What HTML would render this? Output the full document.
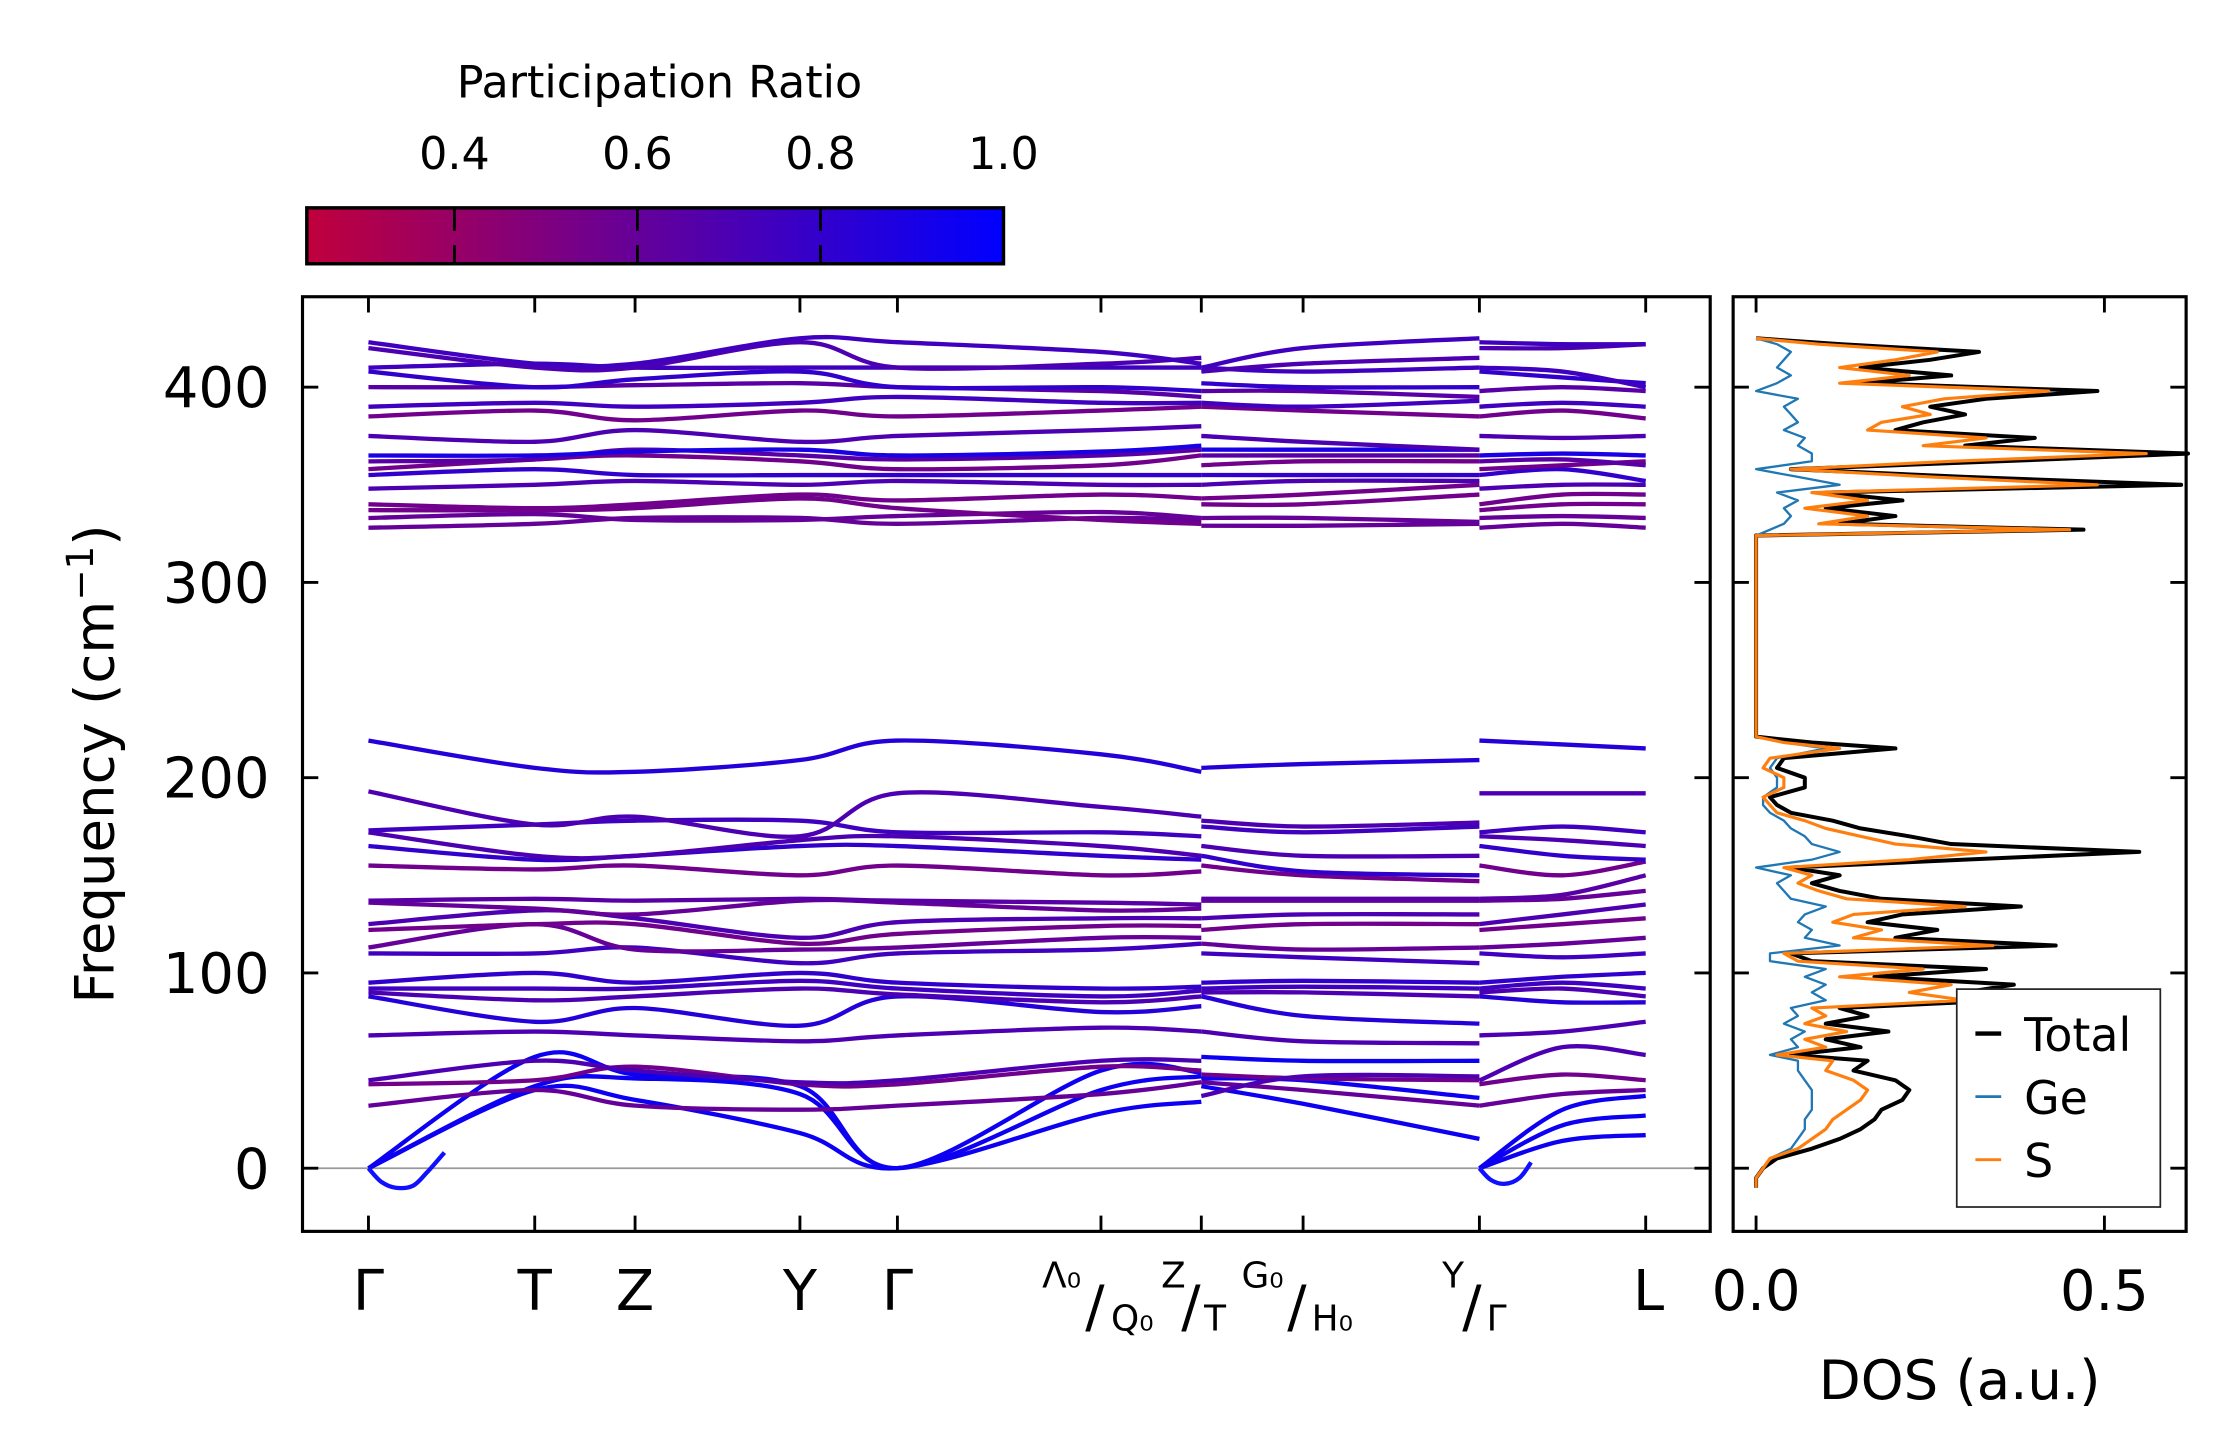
<!DOCTYPE html>
<html><head><meta charset="utf-8"><style>
html,body{margin:0;padding:0;background:#fff}
svg{display:block}
text{font-family:"DejaVu Sans","Liberation Sans",sans-serif;fill:#000}
</style></head><body>
<svg id="fig" width="2222" height="1455" viewBox="0 0 1550 1015" xmlns="http://www.w3.org/2000/svg"></svg>
<script>
// ---------- data ----------
const colorbarTicks = [0.4, 0.6, 0.8, 1.0];
const yTicks = [0, 100, 200, 300, 400];
const dosTicks = [0.0, 0.5];
const kLabels = ["Γ","T","Z","Y","Γ","","","","",""];
const kTickPos = [257,373,443,558,626,768,838,909,1032,1148];
const group1K = [257,373,443,558,626,768,838];
const group2K = [838,909,1032];
const group3K = [1032,1090,1148];
const bandFreqs = [
[0,40,35,18,0,28,34, 42,33,15, 0,14,17],
[0,42,46,38,0,40,47, 46,45,36, 0,22,27],
[0,57,48,42,0,50,49, 57,55,55, 0,30,37],
[32,40,32,30,32,38,44, 44,40,32, 32,38,40],
[43,45,52,43,43,52,50, 48,46,45, 43,48,45],
[45,55,50,44,45,55,55, 37,47,47, 45,62,58],
[68,70,68,65,68,72,70, 70,65,64, 68,70,75],
[88,75,82,73,88,80,83, 88,78,74, 88,85,85],
[90,86,88,92,89,85,88, 90,90,88, 90,92,88],
[92,92,92,96,92,88,91, 92,93,92, 92,95,92],
[95,100,95,100,95,92,93, 95,96,95, 95,98,100],
[110,110,113,105,110,112,115, 110,108,105, 110,108,110],
[113,125,112,112,113,118,118, 115,112,113, 113,115,118],
[122,125,125,115,120,124,124, 122,125,125, 122,125,128],
[125,132,128,118,126,128,128, 128,130,130, 125,130,135],
[136,133,130,137,136,132,133, 137,137,137, 137,138,142],
[137,138,137,138,137,136,135, 138,138,138, 138,140,150],
[155,153,155,150,155,150,152, 155,150,147, 155,150,157],
[165,158,160,165,165,160,158, 160,152,150, 165,160,158],
[172,160,160,168,170,165,160, 165,160,160, 170,168,165],
[173,176,178,178,172,172,170, 175,172,175, 172,175,172],
[193,176,180,170,192,185,180, 178,175,177, 192,192,192],
[219,205,203,209,219,212,203, 205,207,209, 219,217,215],
[328,330,333,333,330,333,332, 329,329,330, 328,330,328],
[333,335,332,332,334,336,333, 333,333,331, 333,334,333],
[337,337,338,343,338,332,330, 340,340,345, 337,340,340],
[340,338,340,345,342,345,343, 343,345,350, 340,345,345],
[348,350,352,350,352,350,350, 350,352,352, 348,350,350],
[355,358,355,355,355,355,355, 355,355,355, 355,358,352],
[358,363,365,362,358,360,365, 360,362,362, 358,360,362],
[362,363,368,365,363,365,368, 365,365,365, 362,363,360],
[365,365,367,368,365,367,370, 368,368,368, 365,366,365],
[375,372,378,372,375,378,380, 375,372,368, 375,374,375],
[385,388,383,388,385,388,390, 390,388,385, 385,388,384],
[390,392,390,392,395,392,392, 392,390,393, 390,392,390],
[400,400,401,402,400,398,395, 398,398,395, 398,400,398],
[408,400,404,408,400,400,398, 402,400,400, 408,405,402],
[410,412,410,410,410,410,410, 410,408,410, 410,408,400],
[420,410,410,423,410,412,415, 408,412,415, 420,420,422],
[423,412,412,425,423,418,412, 410,420,425, 423,422,422]
];
const bandPR = [0.95,0.95,0.95,0.6,0.55,0.7,0.7,0.85,0.7,0.75,0.8,0.75,0.6,0.55,0.7,0.6,0.65,0.55,0.8,0.7,0.75,0.7,0.85,
0.6,0.6,0.55,0.55,0.7,0.8,0.55,0.65,0.9,0.7,0.55,0.75,0.65,0.8,0.75,0.7,0.75];
const dipK = [257,266,276,288,298,310];
const dipFreq = [0,-7,-10,-9,-2,8];
const dipK2 = [1032,1040,1050,1060,1068];
const dipFreq2 = [0,-6,-8,-5,3];

const dosFreq = [-10,-5,0,5,10,15,20,25,30,35, 40,45,50,55,58,62,66,70,74,78, 82,86,90,94,98,102,106,110,114,118,
 122,126,130,134,138,142,146,150,154,158, 162,166,170,174,178,182,186,190,195,200, 205,210,215,218,221,250,300,324,327,330,
 334,338,342,346,350,354,358,362,366,370, 374,378,382,386,390,394,398,402,406,410, 414,418,422,425];
const dosTotal = [0.00,0.00,0.01,0.03,0.08,0.12,0.15,0.17,0.18,0.21, 0.22,0.20,0.14,0.16,0.05,0.15,0.10,0.19,0.10,0.16,
 0.12,0.36,0.30,0.37,0.17,0.33,0.08,0.05,0.43,0.20, 0.26,0.16,0.21,0.38,0.18,0.12,0.08,0.12,0.05,0.30,
 0.55,0.28,0.22,0.15,0.11,0.05,0.03,0.02,0.07,0.07, 0.03,0.04,0.20,0.08,0.00,0.00,0.00,0.00,0.47,0.12,
 0.20,0.10,0.21,0.10,0.61,0.30,0.05,0.35,0.62,0.30, 0.40,0.20,0.24,0.30,0.25,0.33,0.49,0.15,0.28,0.15, 0.25,0.32,0.12,0.00];
const dosGe = [0.00,0.00,0.01,0.02,0.05,0.06,0.07,0.07,0.08,0.08, 0.08,0.07,0.06,0.06,0.02,0.06,0.05,0.07,0.04,0.06,
 0.05,0.10,0.08,0.10,0.07,0.10,0.02,0.02,0.12,0.07, 0.08,0.06,0.07,0.10,0.05,0.04,0.03,0.05,0.00,0.08,
 0.12,0.08,0.07,0.05,0.04,0.02,0.01,0.01,0.03,0.03, 0.02,0.03,0.10,0.04,0.00,0.00,0.00,0.00,0.02,0.04,
 0.05,0.04,0.06,0.03,0.12,0.06,0.00,0.08,0.08,0.06, 0.07,0.04,0.06,0.05,0.04,0.06,0.00,0.03,0.05,0.03, 0.04,0.05,0.03,0.00];
const dosS = [0.00,0.00,0.01,0.02,0.06,0.08,0.10,0.11,0.13,0.15, 0.16,0.14,0.10,0.11,0.03,0.10,0.07,0.13,0.07,0.10,
 0.08,0.30,0.22,0.28,0.12,0.24,0.06,0.04,0.34,0.14, 0.18,0.11,0.14,0.30,0.13,0.09,0.06,0.08,0.04,0.22,
 0.33,0.20,0.15,0.10,0.07,0.03,0.02,0.01,0.04,0.04, 0.01,0.02,0.12,0.04,0.00,0.00,0.00,0.00,0.45,0.09,
 0.16,0.07,0.16,0.08,0.49,0.25,0.05,0.28,0.56,0.24, 0.33,0.16,0.18,0.25,0.21,0.27,0.42,0.12,0.22,0.12, 0.20,0.26,0.09,0.00];

// ---------- helpers ----------
const NS="http://www.w3.org/2000/svg";
const svg=document.getElementById('fig');
function mk(tag,attrs,parent){const e=document.createElementNS(NS,tag);for(const k in attrs)e.setAttribute(k,attrs[k]);(parent||svg).appendChild(e);return e;}
const M={l:211,r:1193,t:207,b:859};
const D={l:1209,r:1525,t:207,b:859};
const yMin=-32.35, yMax=446.3;
function fy(f){return M.b-(f-yMin)/(yMax-yMin)*(M.b-M.t);}
function dx(v){return 1225+v*486;}
const cbMin=0.2387;
function cbx(v){return 214+(v-cbMin)/(1-cbMin)*(700-214);}
function prColor(p){let t=Math.max(0,Math.min(1,(p-cbMin)/(1-cbMin)));
 const r=Math.round(192*(1-t)),g=0,b=Math.round(60+195*t);return `rgb(${r},${g},${b})`;}
function spline(pts){let d=`M${pts[0][0]},${pts[0][1]}`;
 for(let i=0;i<pts.length-1;i++){const p0=pts[i-1]||pts[i],p1=pts[i],p2=pts[i+1],p3=pts[i+2]||pts[i+1];
  const c1=[p1[0]+(p2[0]-p0[0])/6,p1[1]+(p2[1]-p0[1])/6],c2=[p2[0]-(p3[0]-p1[0])/6,p2[1]-(p3[1]-p1[1])/6];
  d+=` C${c1[0].toFixed(1)},${c1[1].toFixed(1)} ${c2[0].toFixed(1)},${c2[1].toFixed(1)} ${p2[0]},${p2[1].toFixed(1)}`;}
 return d;}

// ---------- colorbar ----------
const defs=mk('defs',{});
const lg=mk('linearGradient',{id:'cbg',x1:'0',x2:'1',y1:'0',y2:'0'},defs);
mk('stop',{offset:'0','stop-color':prColor(cbMin)},lg);
mk('stop',{offset:'1','stop-color':prColor(1)},lg);
const cb=mk('rect',{x:214,y:145,width:486,height:39,fill:'url(#cbg)',stroke:'#000','stroke-width':2.4});


const cbt=mk('text',{x:460,y:68,'font-size':31,'text-anchor':'middle'});cbt.textContent='Participation Ratio';


colorbarTicks.forEach(v=>{const x=cbx(v);
 if(v<1){mk('line',{x1:x,x2:x,y1:145,y2:161,stroke:'#000','stroke-width':2});mk('line',{x1:x,x2:x,y1:171,y2:184,stroke:'#000','stroke-width':2});}
 const t=mk('text',{x:x,y:118,'font-size':31,'text-anchor':'middle'});t.textContent=v.toFixed(1);
 
 
});

// ---------- band structure ----------
const bandG=mk('g',{});


mk('line',{x1:M.l,x2:M.r,y1:fy(0),y2:fy(0),stroke:'#999','stroke-width':1.2},bandG);
bandFreqs.forEach((vals,bi)=>{const col=prColor(bandPR[bi]);
 [[group1K,vals.slice(0,7)],[group2K,vals.slice(7,10)],[group3K,vals.slice(10,13)]].forEach(([ks,fs])=>{
  const pts=ks.map((k,i)=>[k,fy(fs[i])]);
  const p=mk('path',{d:spline(pts),fill:'none',stroke:col,'stroke-width':3},bandG);
  
  
 });});
[[dipK,dipFreq],[dipK2,dipFreq2]].forEach(([ks,fs])=>{
 const p=mk('path',{d:spline(ks.map((k,i)=>[k,fy(fs[i])])),fill:'none',stroke:'#1010ff','stroke-width':3},bandG);
 
 
});
// axes frame
const mf=mk('rect',{x:M.l,y:M.t,width:M.r-M.l,height:M.b-M.t,fill:'none',stroke:'#000','stroke-width':2.2});


yTicks.forEach(v=>{const y=fy(v);
 mk('line',{x1:M.l,x2:M.l+11,y1:y,y2:y,stroke:'#000','stroke-width':2});
 mk('line',{x1:M.r-11,x2:M.r,y1:y,y2:y,stroke:'#000','stroke-width':2});
 const t=mk('text',{x:M.l-23,y:y+14,'font-size':39,'text-anchor':'end'});t.textContent=v;
 
 
});
kTickPos.forEach((x,i)=>{
 mk('line',{x1:x,x2:x,y1:M.t,y2:M.t+11,stroke:'#000','stroke-width':2});
 mk('line',{x1:x,x2:x,y1:M.b-11,y2:M.b,stroke:'#000','stroke-width':2});
 if(kLabels[i]){const t=mk('text',{x:x,y:914,'font-size':39,'text-anchor':'middle'});t.textContent=kLabels[i];
 
 }
});
// compound labels
const lbl=mk('g',{});


lbl.innerHTML=`<text x="727" y="898" font-size="25">Λ₀</text><text x="757" y="925" font-size="40">/</text><text x="775" y="928" font-size="25">Q₀</text>
<text x="810" y="898" font-size="25">Z</text><text x="824" y="925" font-size="40">/</text><text x="840" y="928" font-size="25">T</text>
<text x="866" y="898" font-size="25">G₀</text><text x="898" y="925" font-size="40">/</text><text x="915" y="928" font-size="25">H₀</text>
<text x="1006" y="898" font-size="25">Y</text><text x="1020" y="925" font-size="40">/</text><text x="1037" y="928" font-size="25">Γ</text>
<text x="1150" y="914" font-size="39" text-anchor="middle">L</text>`;
const yl=mk('text',{x:0,y:0,'font-size':38,'text-anchor':'middle',transform:'translate(79,533) rotate(-90)'});
yl.innerHTML='Frequency (cm<tspan dy="-14" font-size="26">−1</tspan><tspan dy="14">)</tspan>';



// ---------- DOS ----------
const dosG=mk('g',{});


const series=[[dosTotal,'#000',2.8,'dos-total-line'],[dosGe,'#1f77b4',1.6,'dos-ge-line'],[dosS,'#ff7f0e',2.2,'dos-s-line']];
series.forEach(([arr,col,w,name])=>{
 const pts=dosFreq.map((f,i)=>`${dx(arr[i]).toFixed(1)},${fy(f).toFixed(1)}`).join(' ');
 const pl=mk('polyline',{points:pts,fill:'none',stroke:col,'stroke-width':w,'stroke-linejoin':'round'},dosG);
 
 
});
const df=mk('rect',{x:D.l,y:D.t,width:D.r-D.l,height:D.b-D.t,fill:'none',stroke:'#000','stroke-width':2.2});


yTicks.forEach(v=>{const y=fy(v);
 mk('line',{x1:D.l,x2:D.l+11,y1:y,y2:y,stroke:'#000','stroke-width':2});
 mk('line',{x1:D.r-11,x2:D.r,y1:y,y2:y,stroke:'#000','stroke-width':2});});
dosTicks.forEach(v=>{const x=dx(v);
 mk('line',{x1:x,x2:x,y1:D.t,y2:D.t+11,stroke:'#000','stroke-width':2});
 mk('line',{x1:x,x2:x,y1:D.b-11,y2:D.b,stroke:'#000','stroke-width':2});
 const t=mk('text',{x:x,y:914,'font-size':39,'text-anchor':'middle'});t.textContent=v.toFixed(1);
 
 
});
const dl=mk('text',{x:1367,y:976,'font-size':38,'text-anchor':'middle'});dl.textContent='DOS (a.u.)';


// legend
const leg=mk('g',{});


mk('rect',{x:1365,y:690,width:142,height:152,fill:'#fff',stroke:'#222','stroke-width':1.2},leg);
[['Total','#000',733],['Ge','#1f77b4',777],['S','#ff7f0e',821]].forEach(([n,c,y])=>{
 mk('line',{x1:1378,x2:1396,y1:y-12,y2:y-12,stroke:c,'stroke-width':n==='Total'?3:2},leg);
 const t=mk('text',{x:1412,y:y,'font-size':32},leg);t.textContent=n;
 
 
});
</script>
</body></html>
